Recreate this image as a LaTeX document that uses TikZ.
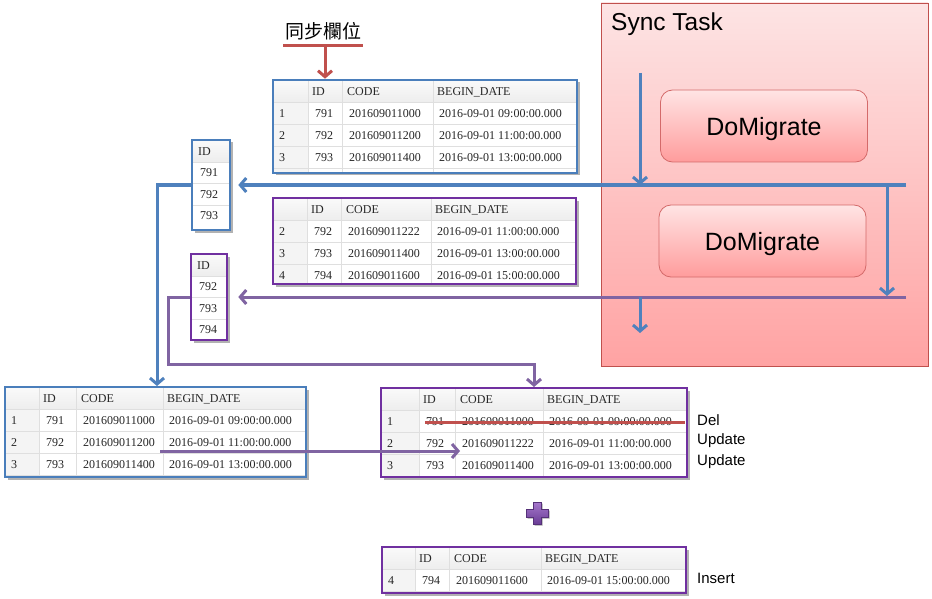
\documentclass[tikz,border=0pt]{standalone}
\usepackage{fontspec}
\setmainfont{Liberation Serif}
\newfontfamily\sansf{Liberation Sans}
\newfontfamily\cjkf{Noto Sans CJK TC}
\usetikzlibrary{arrows.meta,shadows,fit,calc}
\definecolor{oblue}{HTML}{4F81BD}
\definecolor{tblue}{HTML}{4A7EBB}
\definecolor{opurp}{HTML}{8064A2}
\definecolor{tpurp}{HTML}{7030A0}
\definecolor{ored}{HTML}{C0504D}
\definecolor{pinkT}{HTML}{FDE4E4}
\definecolor{pinkB}{HTML}{FFA3A3}
\definecolor{migT}{HTML}{FFE4E4}
\definecolor{migB}{HTML}{FF9C9C}
\definecolor{migD}{HTML}{D46A6A}
\definecolor{plusT}{HTML}{A678CC}
\definecolor{plusB}{HTML}{6A3D96}
\tikzset{
  tabbox/.style={fill=white, inner sep=0pt, line width=2.6pt,
    drop shadow={shadow xshift=2.5pt, shadow yshift=-2.5pt, opacity=.3, fill=black}},
  cell/.style={anchor=west, inner sep=0pt, font=\fontsize{12}{12}\selectfont, text=black!85},
  sepl/.style={draw=gray!25, line width=0.8pt},
  conn/.style={line width=3pt, -{Straight Barb[length=6pt,width=14pt]}},
  plainline/.style={line width=3pt},
  lbl/.style={anchor=west, inner sep=0pt, font=\sansf\fontsize{15}{15}\selectfont},
  syncbox/.style={draw=ored, line width=0.8pt, top color=pinkT, bottom color=pinkB, inner sep=0pt},
  migbox/.style={draw=migD, line width=0.8pt, rounded corners=12pt, top color=migT, bottom color=migB,
    minimum width=207pt, minimum height=72pt, text depth=0pt, font=\sansf\fontsize{25}{25}\selectfont},
}
\newcommand\dbtab[9]{%
  \node[tabbox, draw=#2, fit={(#3,#4)(#5,#6)}] (#1) {};
  \shade[top color=gray!4, bottom color=gray!14] (#3,#4) rectangle (#5,{#4+22.5});
  \fill[gray!9] (#3,{#4+22.5}) rectangle (#7,#6);
  \foreach \cx in {#7,#8,#9} \draw[sepl] (\cx,#4) -- (\cx,#6);
  \pgfmathtruncatemacro\nrows{(#6-#4-22.5)/22}%
  \foreach \k in {0,...,\nrows} \draw[sepl] (#3,{#4+22.5+22*\k}) -- (#5,{#4+22.5+22*\k});
  \draw[draw=#2, line width=2.6pt] (#3,#4) rectangle (#5,#6);
  \def\tn{#1}\def\tz{#3}\def\ta{#7}\def\tb{#8}\def\tc{#9}\def\ty{#4}%
  \node[cell] (#1-h1) at ({#7+4},{#4+12}) {ID};
  \node[cell] (#1-h2) at ({#8+5},{#4+12}) {CODE};
  \node[cell] (#1-h3) at ({#9+4},{#4+12}) {BEGIN\_DATE};
}
\newcommand\dbrow[5]{%
  \pgfmathsetmacro\ry{\ty+22.5+22*(#1-1)+11.5}%
  \node[cell] (\tn-r#1a) at ({\tz+6},\ry) {#2};
  \node[cell] (\tn-r#1b) at ({\ta+7},\ry) {#3};
  \node[cell] (\tn-r#1c) at ({\tb+7},\ry) {#4};
  \node[cell] (\tn-r#1d) at ({\tc+6},\ry) {#5};
}
\newcommand\idtab[9]{%
  \node[tabbox, draw=#2, fit={(#3,#4)(#5,#6)}] (#1) {};
  \shade[top color=gray!4, bottom color=gray!14] (#3,#4) rectangle (#5,{#4+22});
  \foreach \k in {0,1,2} \draw[sepl] (#3,{#4+22+21.5*\k}) -- (#5,{#4+22+21.5*\k});
  \draw[draw=#2, line width=2.6pt] (#3,#4) rectangle (#5,#6);
  \node[cell] (#1-h) at ({#3+6},{#4+11.5}) {ID};
  \node[cell] (#1-1) at ({#3+8},{#4+22+11}) {#7};
  \node[cell] (#1-2) at ({#3+8},{#4+43.5+11}) {#8};
  \node[cell] (#1-3) at ({#3+8},{#4+65+11}) {#9};
}
\begin{document}
\begin{tikzpicture}[x=1pt,y=-1pt]
\useasboundingbox[fill=white] (0,0) rectangle (932,599);

% Sync task panel
\node[syncbox, fit={(601,3)(928,366)}] (sync) {};
\node[anchor=west, inner sep=0pt, font=\sansf\fontsize{24.5}{24.5}\selectfont] (synct) at (611,24) {Sync Task};
\node[migbox] (m1) at (764,126) {DoMigrate};
\node[migbox] (m2) at (762.5,241) {DoMigrate};

% title
\node[inner sep=0pt, font=\cjkf\fontsize{19}{19}\selectfont] (title) at (323,31) {同步欄位};
\coordinate (ulA) at (283,46);
\coordinate (ulB) at (363,46);
\coordinate (ulM) at (325,46);
\draw[ored, plainline] (ulA) -- (ulB);

% tables
\dbtab{tA}{tblue}{273}{80}{577}{173}{308}{342}{433}
\dbrow{1}{1}{791}{201609011000}{2016-09-01 09:00:00.000}
\dbrow{2}{2}{792}{201609011200}{2016-09-01 11:00:00.000}
\dbrow{3}{3}{793}{201609011400}{2016-09-01 13:00:00.000}

\dbtab{tB}{tpurp}{273}{198}{576}{284}{307}{341}{431}
\dbrow{1}{2}{792}{201609011222}{2016-09-01 11:00:00.000}
\dbrow{2}{3}{793}{201609011400}{2016-09-01 13:00:00.000}
\dbrow{3}{4}{794}{201609011600}{2016-09-01 15:00:00.000}

\dbtab{tL}{tblue}{5}{387}{306}{477}{39}{76}{163}
\dbrow{1}{1}{791}{201609011000}{2016-09-01 09:00:00.000}
\dbrow{2}{2}{792}{201609011200}{2016-09-01 11:00:00.000}
\dbrow{3}{3}{793}{201609011400}{2016-09-01 13:00:00.000}

\dbtab{tR}{tpurp}{381}{388}{687}{477}{419}{455}{543}
\dbrow{1}{1}{791}{201609011000}{2016-09-01 09:00:00.000}
\dbrow{2}{2}{792}{201609011222}{2016-09-01 11:00:00.000}
\dbrow{3}{3}{793}{201609011400}{2016-09-01 13:00:00.000}

\dbtab{tI}{tpurp}{382}{547}{686}{593}{415}{449}{541}
\dbrow{1}{4}{794}{201609011600}{2016-09-01 15:00:00.000}

\idtab{idA}{tblue}{192}{140}{230}{230}{791}{792}{793}
\idtab{idB}{tpurp}{191}{254}{227}{340}{792}{793}{794}

% red arrow to first table
\draw[ored, conn] (ulM) -- (ulM |- tA.north);

% connectors in sync panel
\coordinate (s0) at (640,73);
\coordinate (b1r) at (906,185);
\coordinate (b1d) at (887,185);
\coordinate (p1r) at (906,297);
\coordinate (p1d) at (887,296);
\coordinate (s2) at (640,297);
\coordinate (s3) at (640,333);
\draw[oblue, conn] (s0) -- (s0 |- b1r);
\draw[oblue, conn] (b1r) -- ($(idA.east |- b1r)+(7,0)$);
\draw[oblue, conn] (b1d) -- (p1d);
\draw[opurp, conn] (p1r) -- ($(idB.east |- p1r)+(10,0)$);
\draw[oblue, conn] (s2) -- (s3);

% from id lists to lower tables
\coordinate (tLin) at (157,386);
\coordinate (pk1) at (168,364);
\coordinate (tRin) at (534,387);
\draw[oblue, conn] (idA.west |- b1r) -| (tLin);
\draw[opurp, conn] (idB.west |- p1r) -| (pk1) -| (tRin);

% update arrow
\coordinate (uA) at (160,451);
\coordinate (uB) at (460,451);
\draw[opurp, conn] (uA) -- (uB);

% strike-through
\coordinate (dA) at (425,422);
\coordinate (dB) at (685,422);
\draw[ored, plainline] (dA) -- (dB);

% labels
\node[lbl] (lDel) at (697,420) {Del};
\node[lbl] (lUp1) at (697,441) {Update};
\node[lbl] (lUp2) at (697,462) {Update};
\node[lbl] (lIns) at (697,578) {Insert};

% plus sign
\shade[top color=plusT, bottom color=plusB, draw=plusB!80!black, line width=0.5pt,
  drop shadow={shadow xshift=1.5pt, shadow yshift=-1.5pt, opacity=.35, fill=black}]
  (533,502) -- (541,502) -- (541,509) -- (548,509) -- (548,517) -- (541,517) -- (541,524)
  -- (533,524) -- (533,517) -- (526,517) -- (526,509) -- (533,509) -- cycle;
\end{tikzpicture}
\end{document}
